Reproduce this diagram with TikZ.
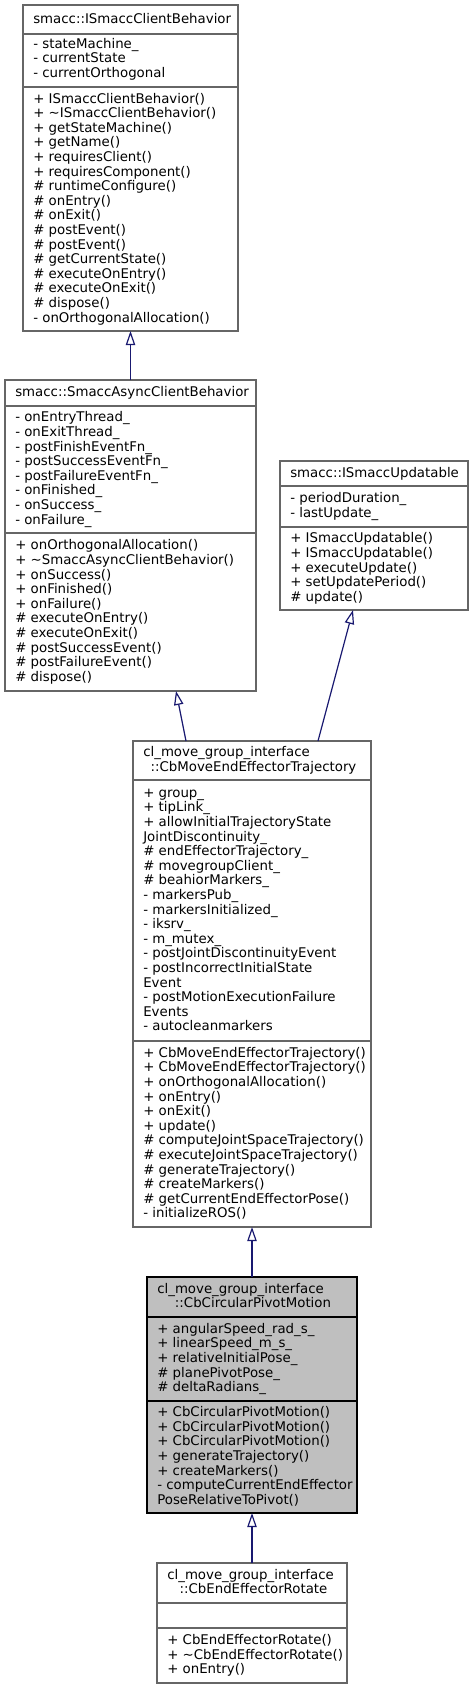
\documentclass[tikz,border=0pt]{standalone}
\usepackage{fontspec}
\setmainfont{DejaVu Sans}
\usetikzlibrary{arrows.meta,fit,calc}
\definecolor{edgeblue}{HTML}{191970}
\definecolor{boxgray}{HTML}{666666}
\definecolor{fillgray}{HTML}{BFBFBF}
\tikzset{
  cls/.style={draw=boxgray, fill=white, line width=0.9pt},
  clsmain/.style={draw=black, fill=fillgray, line width=0.9pt},
  sepgray/.style={draw=boxgray, line width=0.9pt},
  sepblack/.style={draw=black, line width=0.9pt},
  txt/.style={anchor=base west, inner sep=0pt, outer sep=0pt, font=\fontsize{10pt}{12pt}\selectfont},
  txtc/.style={txt, anchor=base},
  inh/.style={draw=edgeblue, line width=0.9pt, -{Triangle[open, length=10.5pt, width=7pt]}}
}
% name, L, T, R, B, S1, S2, box style, separator style
\newcommand{\classbox}[9]{%
  \coordinate (#1-nw) at (#2,#3);
  \coordinate (#1-se) at (#4,#5);
  \node[fit=(#1-nw)(#1-se), inner sep=0pt, outer sep=0pt, #8] (#1) {};
  \draw[#9] (#2,#6) -- (#4,#6);
  \draw[#9] (#2,#7) -- (#4,#7);
}
% name prefix, x origin, first baseline, list of lines
\newcommand{\tlines}[4]{%
  \foreach \myl [count=\i] in {#4} {\node[txt] (#1-\i) at (#2,{#3+(\i-1)*14.6}) {\myl};}%
}
\begin{document}
\begin{tikzpicture}[x=0.75pt,y=-0.75pt]
\useasboundingbox (0,0) rectangle (472,1689);

% ---- boxes ----
\classbox{A}{23}{5}{238}{331}{34}{87}{cls}{sepgray}
\classbox{B}{5}{380}{256}{691}{406}{533}{cls}{sepgray}
\classbox{C}{280}{461}{468}{610}{486}{527}{cls}{sepgray}
\classbox{D}{133}{741}{371}{1227}{780}{1041}{cls}{sepgray}
\classbox{E}{147}{1277}{357}{1513}{1317}{1401}{clsmain}{sepblack}
\classbox{F}{157}{1563}{347}{1683}{1603}{1628}{cls}{sepgray}

% ---- A ----
\tlines{At}{33.3}{23}{smacc::ISmaccClientBehavior}
\tlines{Aa}{33.3}{48}{- stateMachine\_, - currentState, - currentOrthogonal}
\tlines{Am}{33.3}{103}{+ ISmaccClientBehavior(), + \textasciitilde ISmaccClientBehavior(), + getStateMachine(), + getName(), + requiresClient(), + requiresComponent(), \# runtimeConfigure(), \# onEntry(), \# onExit(), \# postEvent(), \# postEvent(), \# getCurrentState(), \# executeOnEntry(), \# executeOnExit(), \# dispose(), - onOrthogonalAllocation()}

% ---- B ----
\tlines{Bt}{15.3}{396.5}{smacc::SmaccAsyncClientBehavior}
\tlines{Ba}{15.3}{421.9}{- onEntryThread\_, - onExitThread\_, - postFinishEventFn\_, - postSuccessEventFn\_, - postFailureEventFn\_, - onFinished\_, - onSuccess\_, - onFailure\_}
\tlines{Bm}{15.3}{549.8}{+ onOrthogonalAllocation(), + \textasciitilde SmaccAsyncClientBehavior(), + onSuccess(), + onFinished(), + onFailure(), \# executeOnEntry(), \# executeOnExit(), \# postSuccessEvent(), \# postFailureEvent(), \# dispose()}

% ---- C ----
\tlines{Ct}{290.3}{477}{smacc::ISmaccUpdatable}
\tlines{Ca}{290.3}{502.7}{- periodDuration\_, - lastUpdate\_}
\tlines{Cm}{290.3}{542.8}{+ ISmaccUpdatable(), + ISmaccUpdatable(), + executeUpdate(), + setUpdatePeriod(), \# update()}

% ---- D ----
\tlines{Dt}{143.3}{756.7}{cl\_move\_group\_interface}
\node[txtc] (Dt-2) at (253.5,771.3) {::CbMoveEndEffectorTrajectory};
\tlines{Da}{143.3}{797.2}{+ group\_, + tipLink\_, + allowInitialTrajectoryState, JointDiscontinuity\_, \# endEffectorTrajectory\_, \# movegroupClient\_, \# beahiorMarkers\_, - markersPub\_, - markersInitialized\_, - iksrv\_, - m\_mutex\_, - postJointDiscontinuityEvent, - postIncorrectInitialState, Event, - postMotionExecutionFailure, Events, - autocleanmarkers}
\tlines{Dm}{143.3}{1057.2}{+ CbMoveEndEffectorTrajectory(), + CbMoveEndEffectorTrajectory(), + onOrthogonalAllocation(), + onEntry(), + onExit(), + update(), \# computeJointSpaceTrajectory(), \# executeJointSpaceTrajectory(), \# generateTrajectory(), \# createMarkers(), \# getCurrentEndEffectorPose(), - initializeROS()}

% ---- E ----
\tlines{Et}{157.3}{1293.2}{cl\_move\_group\_interface}
\node[txtc] (Et-2) at (253,1307.8) {::CbCircularPivotMotion};
\tlines{Ea}{157.3}{1333.3}{+ angularSpeed\_rad\_s\_, + linearSpeed\_m\_s\_, + relativeInitialPose\_, \# planePivotPose\_, \# deltaRadians\_}
\tlines{Em}{157.3}{1416.7}{+ CbCircularPivotMotion(), + CbCircularPivotMotion(), + CbCircularPivotMotion(), + generateTrajectory(), + createMarkers(), - computeCurrentEndEffector, PoseRelativeToPivot()}

% ---- F ----
\tlines{Ft}{167.3}{1579.2}{cl\_move\_group\_interface}
\node[txtc] (Ft-2) at (253.5,1593.8) {::CbEndEffectorRotate};
\tlines{Fm}{167.3}{1644.4}{+ CbEndEffectorRotate(), + \textasciitilde CbEndEffectorRotate(), + onEntry()}

% ---- inheritance connectors ----
\draw[inh] (B.north) -- (A.south);
\draw[inh] ($(D.north west)+(53,0)$) -- ($(B.south west)+(171,0)$);
\draw[inh] ($(D.north west)+(185,0)$) -- ($(C.south west)+(73,0)$);
\draw[inh] (E.north) -- (D.south);
\draw[inh] (F.north) -- (E.south);
\end{tikzpicture}
\end{document}
